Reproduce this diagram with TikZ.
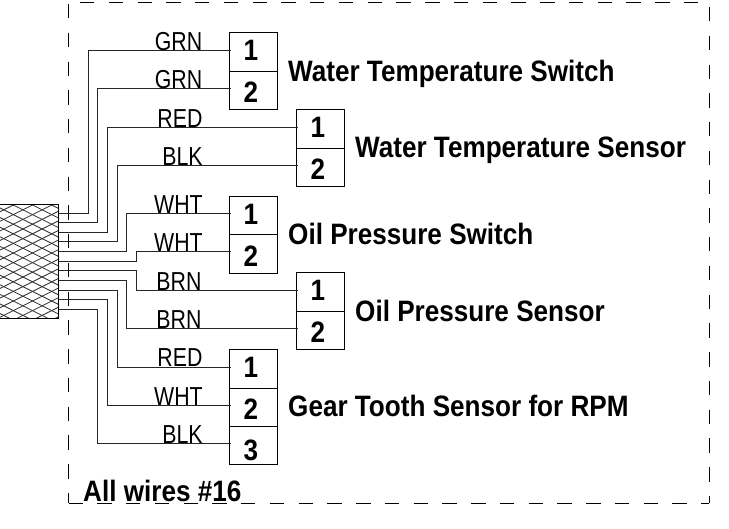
\documentclass[tikz,border=0pt]{standalone}
\usepackage{fontspec}
\setmainfont{Liberation Sans}
\newfontfamily\wirefont[FakeStretch=0.82]{Liberation Sans}
\newfontfamily\boldnarrow[FakeStretch=0.885]{Liberation Sans Bold}
\begin{document}
\begin{tikzpicture}[x=1pt,y=-1pt,
  wire/.style={line width=1pt,black!85,shorten >=-2pt},
  digit/.style={inner sep=0pt,font=\boldnarrow\fontsize{29.5}{29.5}\selectfont},
  pin/.style n args={2}{draw,line width=0.9pt,minimum width=48pt,minimum height=38.3pt,inner sep=0pt,
     label={[digit,xshift=-2.5pt,yshift=#1]center:#2}},
  wlabel/.style={anchor=base,inner sep=0pt,font=\wirefont\fontsize{26}{26}\selectfont},
  title/.style={anchor=base west,inner sep=0pt,font=\boldnarrow\fontsize{29.5}{29.5}\selectfont},
  frame/.style={line width=0.9pt,dash pattern=on 14.4pt off 14.36pt},
  cablebox/.style={draw,line width=1pt,minimum width=60pt,minimum height=114pt,inner sep=0pt}]
\useasboundingbox (0,0) rectangle (729,528);
\draw[frame] (80,2) -- (709,2);
\draw[frame] (709,7) -- (709,503);
\draw[frame] (68.5,503) -- (709,503);
\draw[frame] (68.5,4) -- (68.5,503);
% cable
\node[cablebox,anchor=north east] (cable) at (59,204) {};
\begin{scope}
\clip (0,204) rectangle (59,318);
\foreach \k in {-20,...,40}{
  \draw[line width=0.85pt,black!80] (-7.5,{\k*9.6+2.6}) -- (72.5,{\k*9.6+42.6});
  \draw[line width=0.85pt,black!80] (-7.5,{\k*9.6+42.6}) -- (72.5,{\k*9.6+2.6});
}
\end{scope}
\node[cablebox,anchor=north east] at (59,204) {};
% pins
\node[pin={1.3pt}{1}] (a1) at (253.5,52) {};
\node[pin={-2pt}{2}] (a2) at (253.5,90.3) {};
\node[pin={1.3pt}{1}] (b1) at (320.5,129) {};
\node[pin={-2pt}{2}] (b2) at (320.5,167.3) {};
\node[pin={1.3pt}{1}] (c1) at (253.5,215.5) {};
\node[pin={-2pt}{2}] (c2) at (253.5,253.8) {};
\node[pin={1.3pt}{1}] (d1) at (320.5,292) {};
\node[pin={-2pt}{2}] (d2) at (320.5,330.3) {};
\node[pin={1.3pt}{1}] (e1) at (253.5,369) {};
\node[pin={-2pt}{2}] (e2) at (253.5,407.3) {};
\node[pin={-4.4pt}{3}] (e3) at (253.5,445.6) {};
% wire starts
\foreach \n/\y in {1/213,2/222.7,3/232,4/241.7,5/251,6/261,7/270.5,8/280,9/290,10/299.5,11/309}
  \coordinate (w\n) at (59,\y);
\draw[wire] (w1) -- (88,213) |- ([shift={(0,-2)}]a1.west);
\draw[wire] (w2) -- (97.7,222.7) |- ([shift={(0,-2)}]a2.west);
\draw[wire] (w3) -- (107.3,232) |- ([shift={(0,-2)}]b1.west);
\draw[wire] (w4) -- (117,241.7) |- ([shift={(0,-2)}]b2.west);
\draw[wire] (w5) -- (126,251) |- ([shift={(0,-2)}]c1.west);
\draw[wire] (w6) -- (136,261) |- ([shift={(0,-2)}]c2.west);
\draw[wire] (w7) -- (136,270.5) |- ([shift={(0,-2)}]d1.west);
\draw[wire] (w8) -- (126,280) |- ([shift={(0,-2)}]d2.west);
\draw[wire] (w9) -- (117,290) |- ([shift={(0,-2)}]e1.west);
\draw[wire] (w10) -- (107.3,299.5) |- ([shift={(0,-2)}]e2.west);
\draw[wire] (w11) -- (97.7,309) |- ([shift={(0,-2)}]e3.west);
% wire labels
\node[wlabel] (l1) at (178.5,50) {GRN};
\node[wlabel] (l2) at (178.5,88.5) {GRN};
\node[wlabel] (l3) at (180,127) {RED};
\node[wlabel] (l4) at (182.5,165.5) {BLK};
\node[wlabel] (l5) at (178.5,213) {WHT};
\node[wlabel] (l6) at (178.5,251) {WHT};
\node[wlabel] (l7) at (179,290) {BRN};
\node[wlabel] (l8) at (179,328) {BRN};
\node[wlabel] (l9) at (180,366.5) {RED};
\node[wlabel] (l10) at (178.5,405) {WHT};
\node[wlabel] (l11) at (182.5,443.5) {BLK};
% titles
\node[title] (ta) at (288,81) {Water Temperature Switch};
\node[title] (tb) at (355,157) {Water Temperature Sensor};
\node[title] (tc) at (288,244) {Oil Pressure Switch};
\node[title] (td) at (355,321) {Oil Pressure Sensor};
\node[title] (te) at (288,416) {Gear Tooth Sensor for RPM};
\node[title] (tf) at (83,501) {All wires \#16};
\end{tikzpicture}
\end{document}
